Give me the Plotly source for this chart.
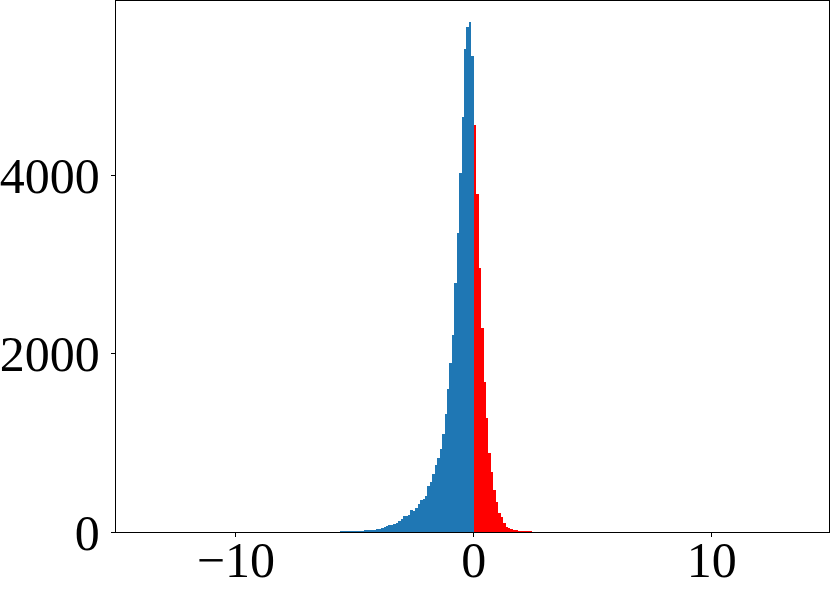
import plotly.graph_objects as go

# Histogram counts (bin width ~0.1025)
bin_width = 0.1025
# negative side, listed from the bin next to 0 outward (leftward)
blue_counts = [5353, 5725, 5672, 5431, 4667, 4034, 3356, 2800, 2210, 1895,
               1605, 1322, 1100, 930, 830, 750, 655, 565, 512, 400,
               370, 365, 316, 268, 235, 245, 190, 185, 178, 150,
               120, 100, 95, 83, 75, 64, 57, 49, 34, 30,
               26, 23, 19, 26, 15, 11, 11, 8, 5, 4,
               3, 2, 2, 1, 1]
# positive side, listed from the bin next to 0 outward (rightward)
red_counts = [4576, 3800, 2968, 2290, 1690, 1285, 885, 670, 475, 336,
              218, 173, 105, 60, 49, 30, 23, 15, 11, 8,
              4, 3, 2, 1]

x_ticks = [-10, 0, 10]
y_ticks = [0, 2000, 4000]

blue_x = [-(i + 0.5) * bin_width for i in range(len(blue_counts))]
red_x = [(i + 0.5) * bin_width for i in range(len(red_counts))]

fig = go.Figure()
fig.add_trace(go.Bar(x=blue_x, y=blue_counts, width=bin_width,
                     marker=dict(color="#1f77b4", line=dict(width=0)),
                     showlegend=False))
fig.add_trace(go.Bar(x=red_x, y=red_counts, width=bin_width,
                     marker=dict(color="#ff0000", line=dict(width=0)),
                     showlegend=False))

font = dict(family="Liberation Serif, DejaVu Serif, serif", size=50, color="black")
axis_common = dict(showline=True, linecolor="black", linewidth=1.3, mirror=True,
                   ticks="outside", ticklen=4, tickwidth=1.2, tickcolor="black",
                   showgrid=False, zeroline=False, tickfont=font, automargin=False)

fig.update_layout(
    width=831, height=597,
    margin=dict(l=116, r=2, t=1, b=65, pad=0),
    paper_bgcolor="white", plot_bgcolor="white",
    bargap=0, barmode="overlay",
    xaxis=dict(range=[-15.04, 14.93], tickvals=x_ticks,
               ticktext=["\u221210", "0", "10"], ticklabelstandoff=-20,
               **axis_common),
    yaxis=dict(range=[0, 5966], tickvals=y_ticks, ticklabelstandoff=1,
               **axis_common),
)

fig.write_html(
    "out.html",
    config={"displayModeBar": False},
    post_script="document.body.style.margin='0';document.body.style.overflow='hidden';",
)
